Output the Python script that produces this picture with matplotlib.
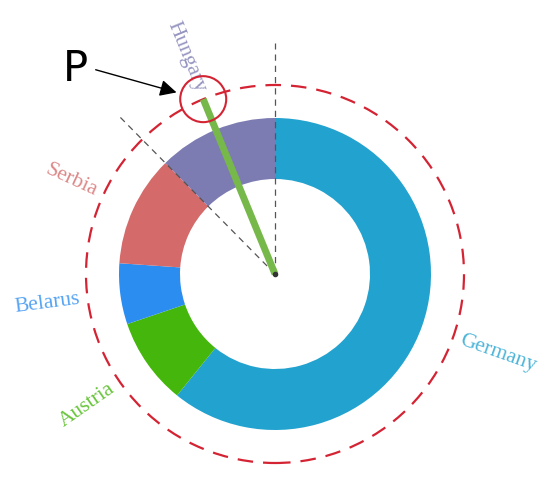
import numpy as np
import matplotlib
matplotlib.use("Agg")
import matplotlib.pyplot as plt

# 数据：各国份额（顺时针，从12点方向开始）
countries = ["Germany", "Austria", "Belarus", "Serbia", "Hungary"]
shares = [60.8, 9.0, 6.3, 11.5, 12.4]
colors = ["#22A2CF", "#44B60C", "#2C8DF0", "#D46A6A", "#7C7BB2"]
pointer_label = "P"

fig = plt.figure(figsize=(5.5, 4.9), dpi=100)
ax = fig.add_axes([0, 0, 1, 1])

# 圆环
ax.pie(shares, colors=colors, radius=156, startangle=90, counterclock=False,
       wedgeprops=dict(width=61, linewidth=0))

# 每块的中心角（数学角度，逆时针从x轴）
total = sum(shares)
cum = np.cumsum([0] + shares) / total * 360
mid_cw = (cum[:-1] + cum[1:]) / 2
mid_math = 90 - mid_cw

# 红色虚线圆
ax.add_patch(plt.Circle((0, 0), 189, fill=False, color="#D42333", lw=1.6,
                        linestyle=(0, (7, 4.5))))

# 灰色虚线
ax.plot([0, 0], [0, 231], color="#555555", lw=0.9, ls=(0, (5, 4)))
b = np.deg2rad(90 - cum[4])
ax.plot([0, 222 * np.cos(b)], [0, 222 * np.sin(b)], color="#555555", lw=0.9, ls=(0, (5, 4)))

# 绿色指针指向 Hungary
a = np.deg2rad(mid_math[4])
px, py = 189 * np.cos(a), 189 * np.sin(a)
ax.plot([0, px], [0, py], color="#77B84A", lw=5, solid_capstyle="butt", zorder=5)
ax.plot(0, 0, "o", color="#333333", ms=3, zorder=6)
ax.add_patch(plt.Circle((px, py), 23, fill=False, color="#D42333", lw=1.5, zorder=6))

# P 和箭头
ax.text(-200, 205, pointer_label, fontsize=30, ha="center", va="center")
ax.annotate("", xy=(px - 24, py + 6), xytext=(-182, 205),
            arrowprops=dict(arrowstyle="-|>", mutation_scale=25, lw=1, color="black"))

# 标签（径向）
for name, ang, c in zip(countries, mid_math, colors):
    r = np.deg2rad(ang)
    x, y = 197 * np.cos(r), 197 * np.sin(r)
    if np.cos(r) < 0:
        rot, ha = ang - 180, "right"
    else:
        rot, ha = ang, "left"
    ax.text(x, y, name, color=c, alpha=0.8, fontsize=15.5, family="Liberation Serif",
            rotation=rot, rotation_mode="anchor", ha=ha, va="center")

ax.set_xlim(-275, 275)
ax.set_ylim(-216, 274)
ax.set_aspect("equal")
ax.axis("off")
fig.savefig("out.png", dpi=100)
